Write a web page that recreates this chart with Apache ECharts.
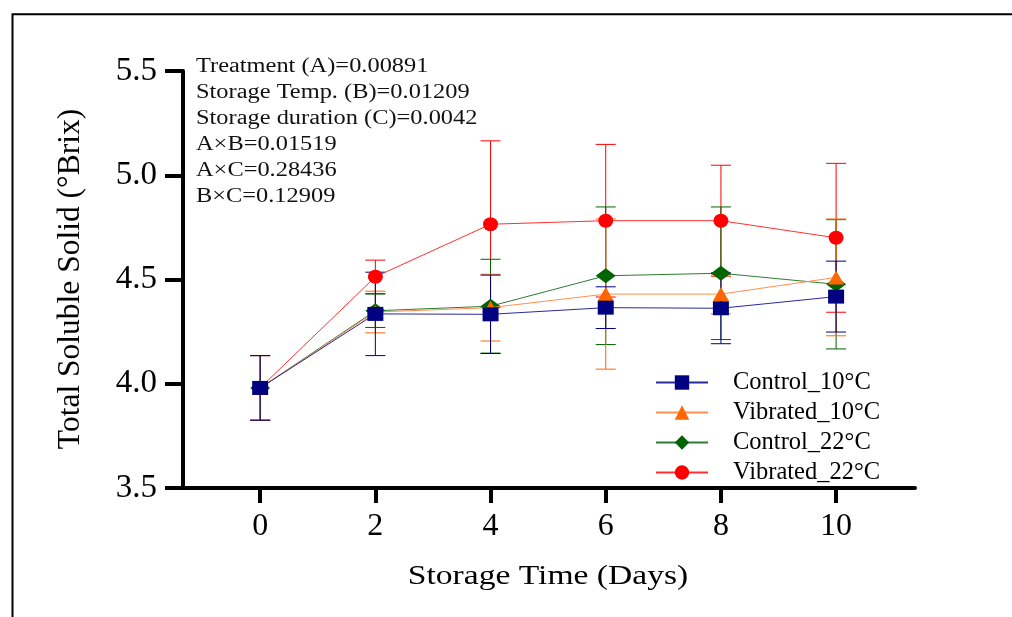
<!DOCTYPE html>
<html>
<head>
<meta charset="utf-8">
<script src="https://cdn.jsdelivr.net/npm/echarts@6/dist/echarts.min.js"></script>
<style>
  html, body { margin: 0; padding: 0; background: #fff; }
  #chart { width: 1012px; height: 617px; }
</style>
</head>
<body>
<div id="chart"></div>
<script>
// Storage days on the x axis
const days = [0, 2, 4, 6, 8, 10];
const xTicks = [0, 2, 4, 6, 8, 10];

// Mean total soluble solids (°Brix) and standard deviations per treatment
const control10 = [3.98, 4.335, 4.333, 4.365, 4.362, 4.418];
const control10Err = [0.155, 0.2, 0.188, 0.1, 0.17, 0.17];
const vibrated10 = [3.98, 4.344, 4.365, 4.43, 4.43, 4.51];
const vibrated10Err = [0.155, 0.1, 0.16, 0.36, 0.095, 0.28];
const control22 = [3.98, 4.35, 4.372, 4.518, 4.53, 4.477];
const control22Err = [0.155, 0.08, 0.225, 0.33, 0.318, 0.31];
const vibrated22 = [3.98, 4.513, 4.765, 4.782, 4.782, 4.70];
const vibrated22Err = [0.155, 0.08, 0.4, 0.366, 0.266, 0.357];

// ANOVA p-values shown in the corner
const statLines = [
  'Treatment (A)=0.00891',
  'Storage Temp. (B)=0.01209',
  'Storage duration (C)=0.0042',
  'A\u00d7B=0.01519',
  'A\u00d7C=0.28436',
  'B\u00d7C=0.12909'
];

const SERIF = "'Liberation Serif', 'DejaVu Serif', serif";

function lineSeries(name, vals, color, lineColor, symbol, size, z) {
  return {
    type: 'line',
    name: name,
    data: days.map((d, i) => [d, vals[i]]),
    symbol: symbol,
    symbolSize: size,
    z: z,
    itemStyle: { color: color },
    lineStyle: { color: lineColor, width: 1 },
    emphasis: { disabled: true },
    animation: false
  };
}

function errorSeries(vals, errs, color, z) {
  return {
    type: 'custom',
    data: days.map((d, i) => [d, vals[i] - errs[i], vals[i] + errs[i]]),
    encode: { x: 0, y: [1, 2] },
    z: z,
    silent: true,
    animation: false,
    renderItem: function (params, api) {
      const x = api.value(0);
      const lo = api.coord([x, api.value(1)]);
      const hi = api.coord([x, api.value(2)]);
      const hw = 10;
      const st = { stroke: color, lineWidth: 1 };
      return {
        type: 'group',
        children: [
          { type: 'line', shape: { x1: lo[0], y1: lo[1], x2: hi[0], y2: hi[1] }, style: st },
          { type: 'line', shape: { x1: lo[0] - hw, y1: lo[1], x2: lo[0] + hw, y2: lo[1] }, style: st },
          { type: 'line', shape: { x1: hi[0] - hw, y1: hi[1], x2: hi[0] + hw, y2: hi[1] }, style: st }
        ]
      };
    }
  };
}

const NAVY = '#000080', ORANGE = '#FF6600', GREEN = '#006400', RED = '#FF0000';

const chart = echarts.init(document.getElementById('chart'), null, { renderer: 'canvas' });

chart.setOption({
  backgroundColor: '#fff',
  animation: false,
  grid: { left: 183, right: 97, top: 71, bottom: 129 },
  xAxis: {
    type: 'value',
    min: -1.34,
    max: 11.37,
    axisLine: { onZero: false, lineStyle: { color: '#000', width: 4 } },
    axisTick: { show: true, length: 15, lineStyle: { color: '#000', width: 4 }, customValues: xTicks },
    axisLabel: { customValues: xTicks, margin: 23, fontSize: 32, fontFamily: SERIF, color: '#000' },
    splitLine: { show: false }
  },
  yAxis: {
    type: 'value',
    min: 3.5,
    max: 5.5,
    interval: 0.5,
    axisLine: { show: true, onZero: false, lineStyle: { color: '#000', width: 4 } },
    axisTick: { show: true, length: 18, lineStyle: { color: '#000', width: 4 } },
    axisLabel: { margin: 26, fontSize: 33, fontFamily: SERIF, color: '#000', formatter: v => v.toFixed(1) },
    splitLine: { show: false }
  },
  legend: {
    data: ['Control_10\u00b0C', 'Vibrated_10\u00b0C', 'Control_22\u00b0C', 'Vibrated_22\u00b0C'],
    orient: 'vertical',
    left: 650,
    top: 365,
    itemWidth: 52,
    itemHeight: 18,
    itemGap: 5,
    selectedMode: false,
    textStyle: { fontSize: 24.5, lineHeight: 24, fontFamily: SERIF, color: '#000', padding: [0, 0, 0, 20] }
  },
  graphic: [
    {
      type: 'rect',
      shape: { x: 12.5, y: 14.3, width: 1100, height: 700 },
      style: { fill: 'none', stroke: '#000', lineWidth: 2 },
      silent: true
    },
    {
      type: 'text',
      x: 196,
      y: 54,
      scaleX: 1.22,
      style: {
        text: statLines.join('\n'),
        fontSize: 20,
        lineHeight: 26,
        fontFamily: SERIF,
        fill: '#111',
        align: 'left',
        verticalAlign: 'top'
      },
      silent: true
    },
    {
      type: 'text',
      x: 548,
      y: 577,
      scaleX: 1.2,
      style: {
        text: 'Storage Time (Days)',
        fontSize: 28,
        fontFamily: SERIF,
        fill: '#000',
        align: 'center',
        verticalAlign: 'middle'
      },
      silent: true
    },
    {
      type: 'text',
      x: 71,
      y: 279,
      rotation: Math.PI / 2,
      style: {
        text: 'Total Soluble Solid (\u00b0Brix)',
        fontSize: 31.5,
        fontFamily: SERIF,
        fill: '#000',
        align: 'center',
        verticalAlign: 'middle'
      },
      silent: true
    }
  ],
  series: [
    errorSeries(vibrated22, vibrated22Err, RED, 2),
    errorSeries(control22, control22Err, GREEN, 2),
    errorSeries(vibrated10, vibrated10Err, ORANGE, 2),
    errorSeries(control10, control10Err, NAVY, 2),
    lineSeries('Vibrated_22\u00b0C', vibrated22, RED, '#FF3030', 'circle', [15, 14], 3),
    lineSeries('Control_22\u00b0C', control22, GREEN, '#2E7D32', 'diamond', [20, 15], 4),
    lineSeries('Vibrated_10\u00b0C', vibrated10, ORANGE, '#FF9050', 'triangle', [16, 14], 5),
    lineSeries('Control_10\u00b0C', control10, NAVY, '#2A2A9A', 'rect', [16, 14], 6)
  ]
});
</script>
</body>
</html>
